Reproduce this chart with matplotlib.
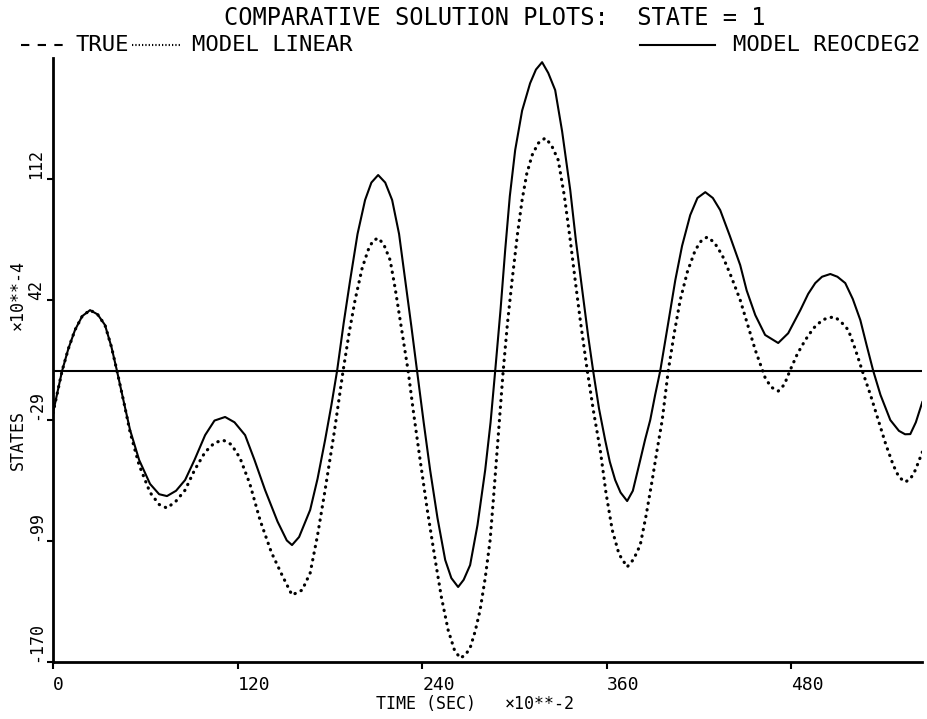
import matplotlib
matplotlib.use('Agg')
import matplotlib.pyplot as plt
from matplotlib.lines import Line2D

# time in units of 10**-2 sec, states in units of 10**-4
t_linear = [0, 3, 5.9, 10, 14.3, 19, 24.1, 29, 33.8, 38, 41.6, 46, 50.1, 56, 63.1,
            69, 74.1, 80, 85.9, 92, 98.9, 105, 110.6, 116, 121.6, 128, 134.6, 142,
            148.9, 155.4, 162, 167.2, 172, 176.9, 183, 188.6, 192.5, 196.4, 201,
            204.9, 208, 211.4, 215, 219.2, 222.5, 225.7, 230.9, 234.5, 238.7, 243.5,
            248.5, 252.5, 256.9, 261, 264.7, 268, 271.2, 274.5, 277.7, 281, 284.2,
            286.5, 288.8, 292.7, 295.5, 298.5, 302, 305.0, 308, 311.5, 315.5, 320,
            324, 328.5, 332.5, 336.3, 339.5, 342.8, 345.2, 347.4, 351.5, 355.8,
            359.5, 363.6, 368, 373.3, 377.5, 381.8, 385.7, 389.6, 392.8, 396.1, 400,
            403.9, 407.8, 412.5, 417.6, 421.5, 425.4, 430, 435.1, 441, 446.8, 452,
            456.6, 463.1, 467, 471.5, 475.5, 479.3, 484, 489.1, 494.5, 500.2, 504.5,
            508.6, 513, 517.1, 521.5, 526.2, 531.5, 536.6, 541.5, 546.3, 550, 554.1,
            557.5, 560.7, 565.2]
x_linear = [-24.6, -12, 0, 13, 23.9, 32, 35.5, 33, 26.8, 14, 0, -18, -35.7, -55, -71,
            -78, -80.1, -76, -69.6, -58, -47.4, -42, -40.4, -43, -50.9, -66, -87.1, -106,
            -119.2, -130.9, -128, -118, -96, -69.6, -35, 0, 22, 41.4, 60,
            70.6, 76, 77.6, 74, 64.7, 48, 29.7, 0, -25, -52.1, -82,
            -110.4, -132, -151.3, -163, -167.7, -166, -161.8, -152, -139.6, -121, -98.8,
            -73, -46.2, 0, 28, 53, 80, 99.8, 115, 126, 133, 136,
            132, 123.1, 102, 76.4, 53, 29.7, 14, 0, -24, -46.2,
            -71, -92.9, -107, -114.5, -110, -101.7, -84, -63.7, -46, -28.7, 0,
            22, 41.4, 58, 70.6, 76, 78.2, 75, 67.6, 55, 41.4, 26,
            12.2, -4.2, -9.5, -11.8, -8, 0.5, 10, 18.0, 25, 29.7, 31.2,
            31.4, 28, 23.9, 13, 0, -14, -28.7, -43, -55.0, -62, -64.9,
            -63, -57.9, -47.4]

t_reocdeg2 = [0, 3, 5.9, 10, 14.3, 19, 24.1, 29, 33.8, 38, 41.6, 46, 50.1, 56, 63.1,
              69, 74.1, 80, 85.9, 92, 98.9, 105, 111.9, 118, 124.9, 131, 137.9, 146,
              152, 155.4, 160, 167.2, 172, 176.9, 181, 184.7, 189, 193.2, 198, 202.9,
              207, 211.4, 216, 220.5, 225, 229.0, 233, 236.7, 241, 245.2, 250, 255.0,
              259, 263.4, 267, 271.2, 276, 281, 284.5, 287.5, 291, 294, 297, 300.5,
              305, 310.2, 314, 318, 322, 326.5, 331, 336.3, 340, 344.1, 348, 351.2,
              355, 359, 362, 365.5, 369, 373.3, 377, 381.8, 385, 388.3, 391.5, 394.8,
              400, 404.6, 409, 414.3, 419, 424.1, 429, 433.8, 440, 446.8, 451, 456.6,
              463, 471.5, 478, 485.9, 491, 495.6, 500, 505.4, 510, 515.1, 520, 524.9,
              529, 533.3, 538, 544.4, 550, 554, 557.4, 561, 565.2]
x_reocdeg2 = [-24.6, -12, 0, 13, 23.9, 32, 35.5, 33, 26.8, 14, 0, -18, -34.5, -52, -66,
              -72, -73.1, -70, -63.7, -52, -37.5, -29, -26.9, -30, -37.5, -52, -69.6, -88,
              -99, -101.7, -97, -81.2, -63, -40.4, -20, 0, 28, 53, 80, 99.8,
              110, 114.4, 110, 99.8, 80, 53, 26, 0, -30, -57.9, -86, -110.4,
              -121, -126.2, -122, -113.4, -90, -57.9, -30, 0, 36, 70.6, 102, 129,
              152, 168, 176, 180.3, 174, 164, 140, 105.6, 76, 47.2, 20, 0,
              -22, -40.4, -53, -63.7, -71, -76, -70, -52.1, -40, -28.7, -14, 0,
              28, 53, 73, 91, 101, 104.4, 101, 93.9, 79, 61.8, 47, 32.6,
              21, 16.3, 22, 35.5, 45, 51.3, 55, 56.6, 55, 51.3, 42, 29.7,
              15, 0, -14, -28.7, -35, -37, -36.9, -30, -18.2]

xticks = [0, 120, 240, 360, 480]
xticklabels = ['0', '120', '240', '360', '480']
yticks = [-170.0, -99.45, -28.9, 41.65, 112.2]
yticklabels = ['-170', '-99', '-29', '42', '112']

W, H = 927, 719
MONO = 'DejaVu Sans Mono'


def fpos(x, y):
    # pixel position (from top left) to figure fraction
    return x / W, 1 - y / H


fig = plt.figure(figsize=(W / 100, H / 100), dpi=100)
ax = fig.add_axes([53 / W, 57 / H, 869 / W, 604 / H])

ax.axhline(0, color='k', lw=1.5)
ax.plot(t_linear, x_linear, color='k', lw=2.3, linestyle=(0, (0.1, 2.0)),
        dash_capstyle='round')
ax.plot(t_reocdeg2, x_reocdeg2, color='k', lw=1.5)

ax.set_xlim(0, 565)
ax.set_ylim(-170.0, 182.75)
for s in ['top', 'right']:
    ax.spines[s].set_visible(False)
for s in ['left', 'bottom']:
    ax.spines[s].set_linewidth(2.0)

ax.set_xticks(xticks)
ax.set_xticklabels(xticklabels, fontfamily=MONO, fontsize=13, ha='left')
ax.set_yticks(yticks)
ax.set_yticklabels(yticklabels, fontfamily=MONO, fontsize=12, rotation=90,
                   va='bottom', ha='center')
ax.tick_params(axis='x', direction='out', length=5, width=1.5, pad=5)
ax.tick_params(axis='y', direction='out', length=4, width=1.5, pad=8)

# axis titles
fig.text(*fpos(18, 440), 'STATES', rotation=90, fontfamily=MONO, fontsize=12,
         ha='center', va='center')
fig.text(*fpos(18, 295), '×10**-4', rotation=90, fontfamily=MONO, fontsize=12,
         ha='center', va='center')
fig.text(*fpos(376, 704), 'TIME (SEC)', fontfamily=MONO, fontsize=12,
         ha='left', va='center')
fig.text(*fpos(505, 704), '×10**-2', fontfamily=MONO, fontsize=12,
         ha='left', va='center')

# title and key
fig.text(*fpos(766, 18), 'COMPARATIVE SOLUTION PLOTS:  STATE = 1', fontfamily=MONO,
         fontsize=17, ha='right', va='center')

key_y = 1 - 45 / H
fig.add_artist(Line2D([21 / W, 68 / W], [key_y, key_y], color='k', lw=1.5,
                      linestyle=(0, (4, 4))))
fig.text(*fpos(75, 45), 'TRUE', fontfamily=MONO, fontsize=16, ha='left', va='center')
fig.add_artist(Line2D([132 / W, 182 / W], [key_y, key_y], color='k', lw=1.5,
                      linestyle=(0, (0.6, 1.0))))
fig.text(*fpos(192, 45), 'MODEL LINEAR', fontfamily=MONO, fontsize=16,
         ha='left', va='center')
fig.add_artist(Line2D([640 / W, 715 / W], [key_y, key_y], color='k', lw=1.5))
fig.text(*fpos(920, 45), 'MODEL REOCDEG2', fontfamily=MONO, fontsize=16,
         ha='right', va='center')

fig.savefig('out.png', dpi=100)
